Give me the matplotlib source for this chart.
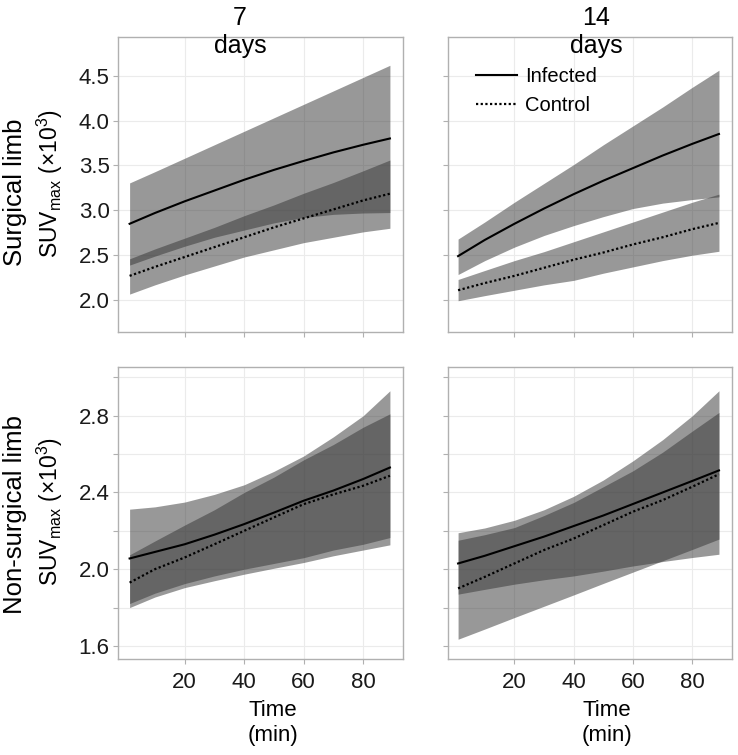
import numpy as np
import matplotlib
matplotlib.use('Agg')
import matplotlib.pyplot as plt

plt.rcParams['font.family'] = ['Liberation Sans', 'DejaVu Sans']
plt.rcParams['mathtext.default'] = 'regular'

t7 = [1.5, 10, 20, 30, 40, 50, 60, 70, 80, 89]
t14 = [1, 10, 20, 30, 40, 50, 60, 70, 80, 89]

# surgical limb, 7 days
s7_inf = [2.85, 2.97, 3.10, 3.22, 3.34, 3.45, 3.55, 3.645, 3.73, 3.80]
s7_inf_hi = [3.305, 3.43, 3.58, 3.73, 3.88, 4.03, 4.18, 4.33, 4.48, 4.615]
s7_inf_lo = [2.39, 2.49, 2.60, 2.70, 2.78, 2.86, 2.92, 2.955, 2.97, 2.975]
s7_ctl = [2.27, 2.37, 2.48, 2.59, 2.70, 2.81, 2.91, 3.01, 3.11, 3.185]
s7_ctl_hi = [2.46, 2.57, 2.69, 2.81, 2.94, 3.06, 3.19, 3.31, 3.44, 3.56]
s7_ctl_lo = [2.067, 2.17, 2.28, 2.38, 2.48, 2.56, 2.64, 2.70, 2.76, 2.80]

# surgical limb, 14 days
s14_inf = [2.49, 2.67, 2.85, 3.02, 3.18, 3.33, 3.47, 3.61, 3.74, 3.85]
s14_inf_hi = [2.68, 2.87, 3.09, 3.30, 3.51, 3.73, 3.94, 4.15, 4.37, 4.56]
s14_inf_lo = [2.285, 2.44, 2.59, 2.72, 2.83, 2.93, 3.02, 3.08, 3.12, 3.15]
s14_ctl = [2.11, 2.19, 2.27, 2.36, 2.45, 2.53, 2.62, 2.70, 2.79, 2.86]
s14_ctl_hi = [2.23, 2.33, 2.44, 2.54, 2.65, 2.76, 2.87, 2.98, 3.09, 3.18]
s14_ctl_lo = [1.993, 2.05, 2.11, 2.17, 2.22, 2.30, 2.37, 2.44, 2.50, 2.544]

# non-surgical limb, 7 days
n7_inf = [2.056, 2.09, 2.13, 2.18, 2.235, 2.295, 2.357, 2.41, 2.47, 2.53]
n7_inf_hi = [2.313, 2.325, 2.35, 2.39, 2.44, 2.51, 2.59, 2.69, 2.80, 2.93]
n7_inf_lo = [1.80, 1.855, 1.904, 1.94, 1.974, 2.005, 2.035, 2.07, 2.10, 2.127]
n7_ctl = [1.93, 2.0, 2.061, 2.13, 2.2, 2.27, 2.339, 2.39, 2.435, 2.487]
n7_ctl_hi = [2.075, 2.147, 2.23, 2.31, 2.40, 2.48, 2.57, 2.65, 2.74, 2.81]
n7_ctl_lo = [1.821, 1.875, 1.925, 1.965, 2.0, 2.03, 2.06, 2.10, 2.13, 2.165]

# non-surgical limb, 14 days
n14_inf = [2.03, 2.07, 2.12, 2.17, 2.225, 2.28, 2.34, 2.40, 2.46, 2.515]
n14_inf_hi = [2.19, 2.215, 2.255, 2.31, 2.38, 2.465, 2.565, 2.675, 2.80, 2.93]
n14_inf_lo = [1.87, 1.895, 1.922, 1.945, 1.965, 1.99, 2.017, 2.04, 2.061, 2.078]
n14_ctl = [1.90, 1.96, 2.03, 2.10, 2.16, 2.23, 2.30, 2.36, 2.43, 2.495]
n14_ctl_hi = [2.151, 2.18, 2.217, 2.28, 2.348, 2.43, 2.513, 2.61, 2.72, 2.817]
n14_ctl_lo = [1.635, 1.688, 1.748, 1.807, 1.866, 1.926, 1.985, 2.044, 2.103, 2.157]

col_titles = ['7\ndays', '14\ndays']
row_titles = ['Surgical limb', 'Non-surgical limb']
series_names = ['Infected', 'Control']

panels = [
    [(t7, s7_inf, s7_inf_lo, s7_inf_hi, s7_ctl, s7_ctl_lo, s7_ctl_hi),
     (t14, s14_inf, s14_inf_lo, s14_inf_hi, s14_ctl, s14_ctl_lo, s14_ctl_hi)],
    [(t7, n7_inf, n7_inf_lo, n7_inf_hi, n7_ctl, n7_ctl_lo, n7_ctl_hi),
     (t14, n14_inf, n14_inf_lo, n14_inf_hi, n14_ctl, n14_ctl_lo, n14_ctl_hi)],
]

W, H = 738, 755
fig = plt.figure(figsize=(W / 100, H / 100), dpi=100)

def px_box(l, r, top, bot):
    return [l / W, 1 - bot / H, (r - l) / W, (bot - top) / H]

boxes = [[px_box(118, 403, 37, 332), px_box(448, 732, 37, 332)],
         [px_box(118, 403, 367, 659), px_box(448, 732, 367, 659)]]
ylims = [(1.645, 4.93), (1.532, 3.054)]
yticks = [[2.0, 2.5, 3.0, 3.5, 4.0, 4.5], [1.6, 1.8, 2.0, 2.2, 2.4, 2.6, 2.8, 3.0]]
ylabels = [['2.0', '2.5', '3.0', '3.5', '4.0', '4.5'],
           ['1.6', '', '2.0', '', '2.4', '', '2.8', '']]
xticks = [20, 40, 60, 80]

band_col = (0.2, 0.2, 0.2)
for r in range(2):
    for c in range(2):
        ax = fig.add_axes(boxes[r][c])
        t, inf, inf_lo, inf_hi, ctl, ctl_lo, ctl_hi = panels[r][c]
        ax.fill_between(t, inf_lo, inf_hi, color=band_col, alpha=0.5, lw=0, zorder=2)
        ax.fill_between(t, ctl_lo, ctl_hi, color=band_col, alpha=0.5, lw=0, zorder=2)
        ax.plot(t, inf, color='black', lw=1.5, zorder=3, label=series_names[0])
        ax.plot(t, ctl, color='black', lw=1.6, ls=(0, (1, 1.1)), zorder=3,
                label=series_names[1])
        ax.set_xlim(-2.4, 93.4)
        ax.set_ylim(*ylims[r])
        ax.set_xticks(xticks)
        ax.set_yticks(yticks[r])
        ax.grid(True, color='#ebebeb', lw=0.8, zorder=0)
        ax.set_axisbelow(True)
        for s in ax.spines.values():
            s.set_color('#b0b0b0')
            s.set_linewidth(1.0)
        ax.tick_params(length=3.6, width=0.8, color='#b0b0b0', labelsize=16,
                       labelcolor='#1a1a1a', pad=2.5)
        ax.tick_params(axis='x', pad=6)
        if c == 0:
            ax.set_yticklabels(ylabels[r])
        else:
            ax.set_yticklabels([])
        if r == 0:
            ax.set_xticklabels([])
        if r == 0 and c == 1:
            ax.legend(loc='upper left', bbox_to_anchor=(0.1, 0.898), frameon=False,
                      fontsize=14.5, handlelength=2.0, handletextpad=0.4,
                      labelspacing=0.5, borderpad=0, borderaxespad=0)

# facet titles
fig.text(240 / W, 1 - 32 / H, col_titles[0], ha='center', va='center', fontsize=18,
         linespacing=1.2)
fig.text(596 / W, 1 - 32 / H, col_titles[1], ha='center', va='center', fontsize=18,
         linespacing=1.2)

# row labels
suv = 'SUV$_{max}$ (×10$^{3}$)'
fig.text(15 / W, 1 - 192 / H, row_titles[0], rotation=90, ha='center', va='center',
         fontsize=18.5)
fig.text(50 / W, 1 - 184 / H, suv, rotation=90, ha='center', va='center', fontsize=16.5)
fig.text(15 / W, 1 - 515 / H, row_titles[1], rotation=90, ha='center', va='center',
         fontsize=18.5)
fig.text(50 / W, 1 - 512 / H, suv, rotation=90, ha='center', va='center', fontsize=16.5)

# x axis labels
for xc in [273, 607]:
    fig.text(xc / W, 1 - 723 / H, 'Time\n(min)', ha='center', va='center', fontsize=16,
             linespacing=1.25)

fig.savefig('out.png', dpi=100)
